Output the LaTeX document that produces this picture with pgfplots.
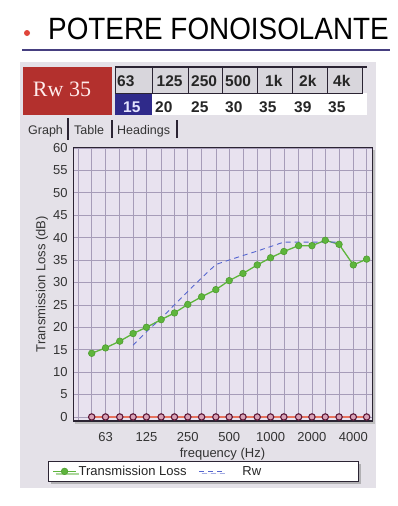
\documentclass[border=0pt]{standalone}
\usepackage{graphicx}
\usepackage{pgfplots}
\pgfplotsset{compat=1.18}
\usepackage{pgfplotstable}
\usepackage{fontspec}
\setmainfont{Liberation Sans}
\newfontfamily\serifrw{Liberation Serif}
\usetikzlibrary{shadows}
\definecolor{panelbg}{HTML}{E4E1E8}
\definecolor{plotbg}{HTML}{E8E2EF}
\definecolor{gridc}{HTML}{A69CB8}
\definecolor{axisc}{HTML}{2B2433}
\definecolor{tlgreen}{HTML}{5EB53C}
\definecolor{tlgreenedge}{HTML}{4E9E30}
\definecolor{rwblue}{HTML}{5565D0}
\definecolor{zerored}{HTML}{E8735F}
\definecolor{zeroedge}{HTML}{5C1838}
\definecolor{zerofill}{HTML}{D8A2B6}
\definecolor{rwred}{HTML}{B3302D}
\definecolor{cellblue}{HTML}{2F2A8A}
\definecolor{cellgray}{HTML}{D8D6DC}
\definecolor{titleline}{HTML}{463F80}
\definecolor{bulletc}{HTML}{E0453A}

\pgfplotstableread{
f tl
50 14.2
63 15.4
80 16.9
100 18.6
125 20.0
160 21.7
200 23.2
250 25.1
315 26.8
400 28.4
500 30.4
630 32.0
800 33.9
1000 35.5
1250 36.9
1600 38.2
2000 38.2
2500 39.4
3150 38.5
4000 33.9
5000 35.2
}\tltable

\pgfplotstableread{
f rw
100 16
125 19
160 22
200 25
250 28
315 31
400 34
500 35
630 36
800 37
1000 38
1250 39
1600 39
2000 39
2500 39
3150 39
}\rwtable

\pgfplotstableread{
f z
50 0
63 0
80 0
100 0
125 0
160 0
200 0
250 0
315 0
400 0
500 0
630 0
800 0
1000 0
1250 0
1600 0
2000 0
2500 0
3150 0
4000 0
5000 0
}\zerotable

\begin{document}
\begin{tikzpicture}
\fill[white] (0pt,0pt) rectangle (398pt,-506pt);
% title
\fill[bulletc] (27pt,-33pt) circle (3pt);
\node[anchor=base west, inner sep=0pt, font=\fontsize{28}{28}\selectfont, text=black] at (48pt,-39.5pt) {\scalebox{0.995}[1.1]{POTERE FONOISOLANTE}};
\draw[titleline, line width=1.5pt] (22pt,-50pt) -- (390pt,-50pt);
% panel
\fill[panelbg] (20pt,-62pt) rectangle (376pt,-488pt);
% Rw box
\fill[rwred] (23pt,-67pt) rectangle (112pt,-115pt);
\node[font=\serifrw\fontsize{22}{22}\selectfont, text=red!8, inner sep=0pt, anchor=base] at (62pt,-96.5pt) {Rw 35};
% table
\fill[white] (115pt,-93pt) rectangle (367pt,-115pt);
\fill[cellblue] (115pt,-93pt) rectangle (152pt,-115pt);
\foreach \a/\b in {115/152,152/188,188/222,222/257,257/292,292/327,327/362}{
  \draw[fill=cellgray, draw=axisc, line width=0.8pt] (\a pt,-67pt) rectangle (\b pt,-93pt);
}
\draw[axisc, line width=1.2pt] (115pt,-67pt) -- (367pt,-67pt);
\foreach \x/\t in {117/63,156.5/125,191/250,225/500,265/1k,299/2k,333/4k}{
  \node[anchor=base west, inner sep=0pt, font=\bfseries\fontsize{15.5}{15.5}\selectfont, text=black!85] at (\x pt,-86.5pt) {\t};
}
\node[anchor=base west, inner sep=0pt, font=\bfseries\fontsize{15.5}{15.5}\selectfont, text=white!90!blue] at (123pt,-112pt) {15};
\foreach \x/\t in {155/20,191/25,225/30,259/35,294/39,328/35}{
  \node[anchor=base west, inner sep=0pt, font=\bfseries\fontsize{15.5}{15.5}\selectfont, text=black!85] at (\x pt,-112pt) {\t};
}
% tabs
\node[anchor=base west, inner sep=0pt, font=\fontsize{12.5}{12.5}\selectfont, text=black!80] at (28pt,-134pt) {Graph};
\node[anchor=base west, inner sep=0pt, font=\fontsize{12.5}{12.5}\selectfont, text=black!80] at (74pt,-134pt) {Table};
\node[anchor=base west, inner sep=0pt, font=\fontsize{12.5}{12.5}\selectfont, text=black!80] at (117pt,-134pt) {Headings};
\draw[axisc, line width=1.6pt] (68pt,-118pt) -- (68pt,-140pt);
\draw[axisc, line width=1.2pt] (112pt,-120pt) -- (112pt,-138pt);
\draw[axisc, line width=1.2pt] (177pt,-120pt) -- (177pt,-138pt);
% plot shadow
\fill[black!25] (75pt,-150pt) rectangle (375pt,-424pt);

\begin{axis}[
  at={(73pt,-421pt)}, anchor=south west,
  scale only axis, width=299pt, height=274pt,
  xmode=log, xmin=36.55, xmax=5470,
  ymin=-0.9, ymax=60.2,
  axis background/.style={fill=plotbg},
  axis line style={draw=axisc, line width=1pt},
  xtick={63,125,250,500,1000,2000,4000},
  xticklabels={63,125,250,500,1000,2000,4000},
  minor xtick={40,50,63,80,100,125,160,200,250,315,400,500,630,800,1000,1250,1600,2000,2500,3150,4000,5000},
  ytick={0,5,...,60},
  grid=both,
  major grid style={draw=gridc, line width=0.7pt},
  minor grid style={draw=gridc, line width=0.7pt},
  major tick length=0pt, minor tick length=0pt,
  /pgf/number format/assume math mode=true,
  tick label style={font=\fontsize{13}{13}\selectfont, text=black!80},
  xticklabel style={inner sep=0pt, anchor=north, yshift=-11pt},
  yticklabel style={inner sep=0pt, anchor=east, xshift=-5.3pt},
  xlabel={frequency (Hz)},
  ylabel={Transmission Loss (dB)},
  label style={font=\fontsize{13}{13}\selectfont, text=black!80},
  xlabel style={at={(axis description cs:0.5,0)}, anchor=north, inner sep=0pt, yshift=-27pt},
  ylabel style={at={(axis description cs:-0.1037,0.5)}, anchor=center, inner sep=0pt},
  legend columns=2,
  legend image code/.code={\draw[mark repeat=2,mark phase=2,#1] plot coordinates {(0pt,0pt) (11.5pt,0pt) (23pt,0pt)};},
  legend style={at={(axis description cs:-0.0836,-0.146)}, anchor=north west,
    draw=axisc, line width=0.8pt, fill=white, inner xsep=4pt, inner ysep=2.5pt,
    drop shadow={shadow xshift=2.5pt, shadow yshift=-2.5pt, fill=black!50},
    font=\fontsize{13}{13}\selectfont, cells={anchor=west}, nodes={inner sep=2pt, text=black!85},
    /tikz/every even column/.append style={column sep=10pt}},
]
\addplot[zerored, line width=1.4pt, mark=*, mark size=3.2pt, mark options={draw=zeroedge, fill=zerofill, line width=1.1pt}, forget plot] table[x=f,y=z]{\zerotable};
\addplot[tlgreen, line width=1.3pt, mark=*, mark size=3.3pt, mark options={fill=tlgreen, draw=tlgreenedge, line width=0.6pt}] table[x=f,y=tl]{\tltable};
\addlegendentry{Transmission Loss}
\addplot[rwblue, line width=0.9pt, dash pattern=on 5pt off 4pt] table[x=f,y=rw]{\rwtable};
\addlegendentry{\hspace*{18pt}Rw\hspace*{91pt}}
\draw[axisc, line width=2pt] (rel axis cs:0,1) -- (rel axis cs:0,0) -- (rel axis cs:1,0);
\end{axis}
\pgfresetboundingbox
\useasboundingbox (0pt,0pt) rectangle (398pt,-506pt);
\end{tikzpicture}
\end{document}
